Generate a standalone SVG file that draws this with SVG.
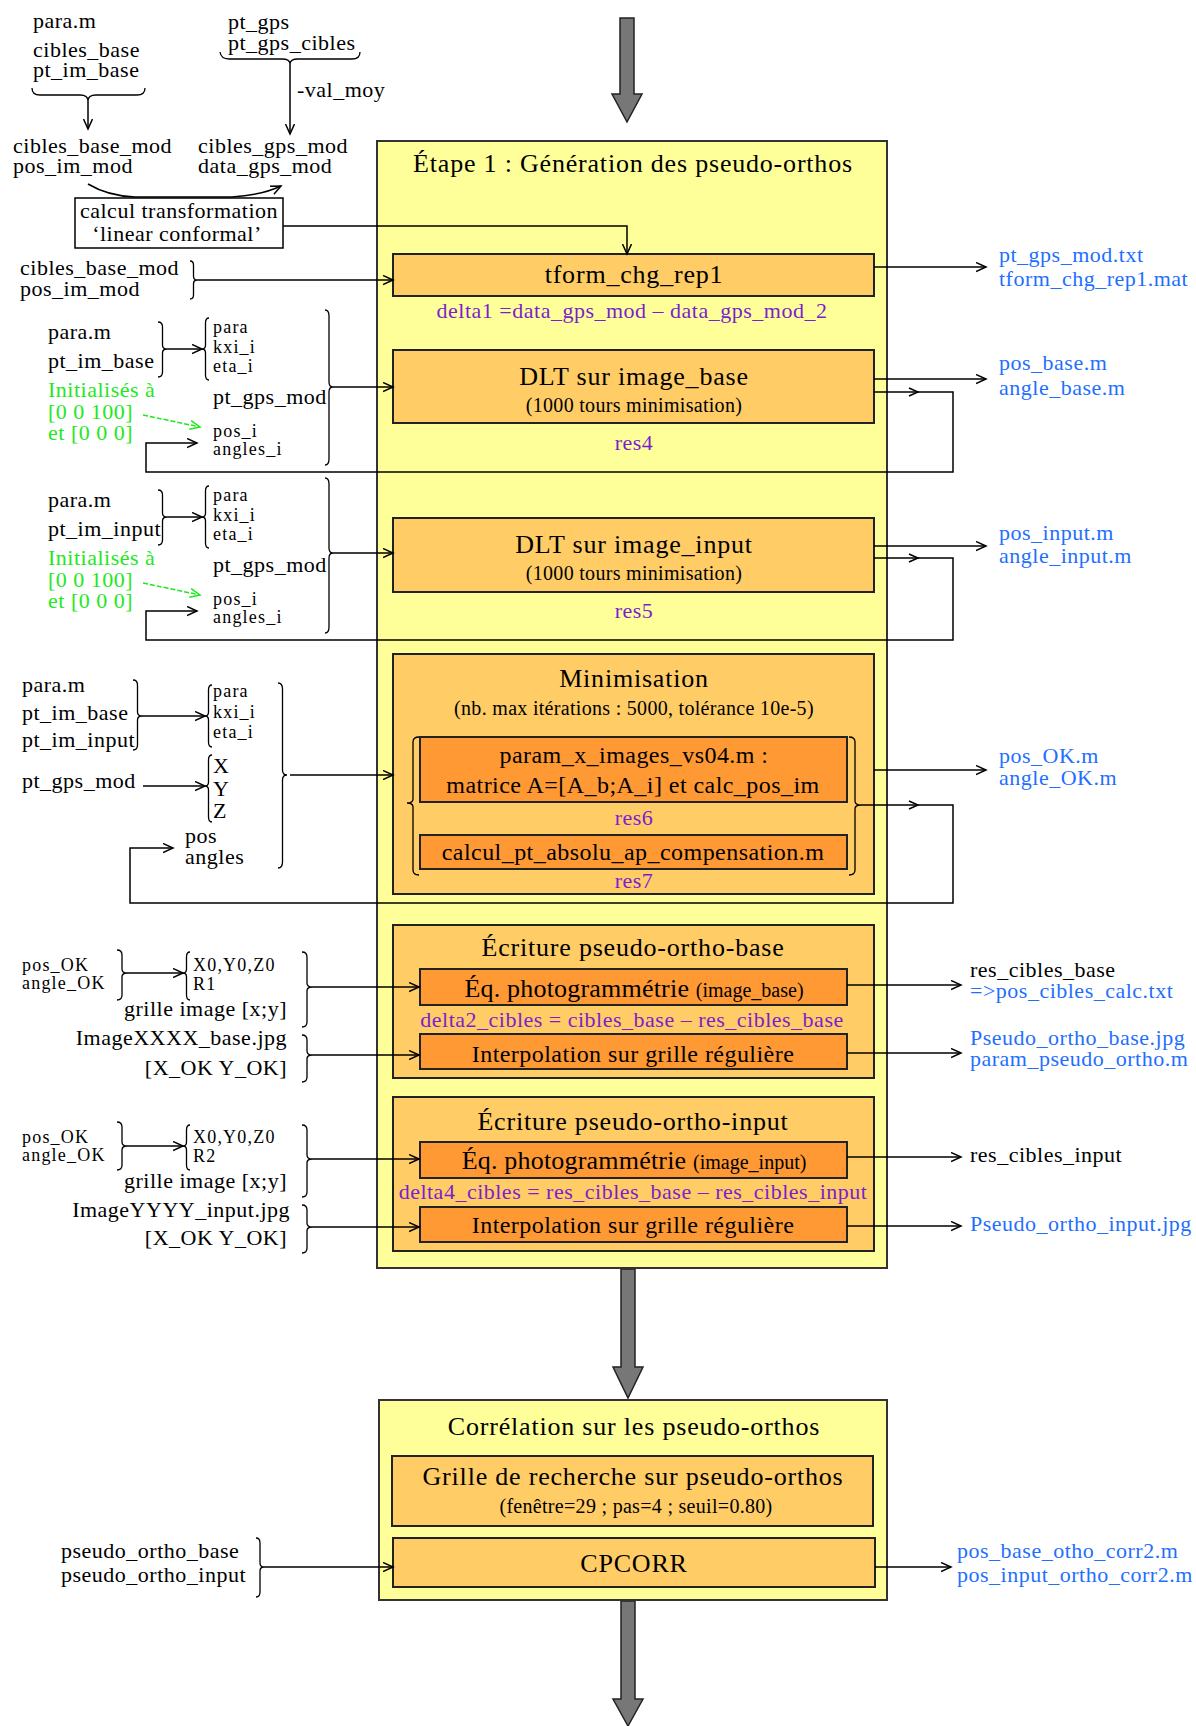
<svg xmlns="http://www.w3.org/2000/svg" width="1196" height="1726" viewBox="0 0 1196 1726">
<style>
text{font-family:"Liberation Serif","Times New Roman",serif;font-size:22px;letter-spacing:.5px;fill:#000}
.blue{fill:#1f6fff}.green{fill:#1ee81e}.purple{fill:#7a1fd0}
.ttl{font-size:26px;letter-spacing:.8px}
.t24{font-size:24px;letter-spacing:.45px}
.sm{font-size:20px;letter-spacing:.3px}
.tt{font-size:18px;letter-spacing:1.2px}
.mid{text-anchor:middle}.end{text-anchor:end}
.yel{fill:#ffff99;stroke:#333;stroke-width:2}
.org{fill:#ffcc66;stroke:#222;stroke-width:2}
.dorg{fill:#ff9933;stroke:#222;stroke-width:2}
.wht{fill:#fff;stroke:#000;stroke-width:1.5}
.ln{fill:none;stroke:#000;stroke-width:1.5}
.br{fill:none;stroke:#000;stroke-width:1.3}
.gln{fill:none;stroke:#1ee81e;stroke-width:1.5;stroke-dasharray:5 2}
.big{fill:#777;stroke:#222;stroke-width:1.5}
</style>
<defs>
<marker id="ah" markerUnits="userSpaceOnUse" markerWidth="12" markerHeight="12" refX="10" refY="5" orient="auto"><path d="M0,0.5 L10,5 L0,9.5" fill="none" stroke="#000" stroke-width="1.5"/></marker>
<marker id="ahg" markerUnits="userSpaceOnUse" markerWidth="12" markerHeight="12" refX="10" refY="5" orient="auto"><path d="M0,0.5 L10,5 L0,9.5" fill="none" stroke="#1ee81e" stroke-width="1.5"/></marker>
</defs>
<rect width="1196" height="1726" fill="#fff"/>

<g id="arrows-big">
<polygon class="big" points="620,18 634,18 634,94 642,94 627,122 612,94 620,94"/>
<polygon class="big" points="621,1269 635,1269 635,1367 643,1367 628,1398 613,1367 621,1367"/>
<polygon class="big" points="621,1601 635,1601 635,1699 643,1699 628,1726 613,1699 621,1699"/>
</g>

<g id="etape1">
<rect class="yel" x="377" y="141" width="510" height="1127"/>
<text class="ttl mid" x="633" y="172">Étape 1 : Génération des pseudo-orthos</text>
</g>
<g id="tform">
<rect class="org" x="393" y="254" width="481" height="42"/>
<text class="ttl mid" x="634" y="283">tform_chg_rep1</text>
<text class="purple mid" x="632" y="318">delta1 =data_gps_mod – data_gps_mod_2</text>
</g>
<g id="dlt-base">
<rect class="org" x="393" y="350" width="481" height="73"/>
<text class="ttl mid" x="634" y="385">DLT sur image_base</text>
<text class="sm mid" x="634" y="412">(1000 tours minimisation)</text>
<text class="purple mid" x="634" y="450">res4</text>
</g>
<g id="dlt-input">
<rect class="org" x="393" y="518" width="481" height="74"/>
<text class="ttl mid" x="634" y="553">DLT sur image_input</text>
<text class="sm mid" x="634" y="580">(1000 tours minimisation)</text>
<text class="purple mid" x="634" y="618">res5</text>
</g>
<g id="minimisation">
<rect class="org" x="393" y="654" width="481" height="240"/>
<text class="ttl mid" x="634" y="687">Minimisation</text>
<text class="sm mid" x="634" y="715">(nb. max itérations : 5000, tolérance 10e-5)</text>
<rect class="dorg" x="420" y="737" width="427" height="65"/>
<text class="t24 mid" x="634" y="763">param_x_images_vs04.m :</text>
<text class="t24 mid" x="633" y="793">matrice A=[A_b;A_i] et calc_pos_im</text>
<text class="purple mid" x="634" y="825">res6</text>
<rect class="dorg" x="420" y="835" width="427" height="34"/>
<text class="t24 mid" x="633" y="860">calcul_pt_absolu_ap_compensation.m</text>
<text class="purple mid" x="634" y="888">res7</text>
<path class="br" d="M419 737 Q413 737 413 742 L413 799 Q413 803 407 803 Q413 803 413 807 L413 870 Q413 875 419 875"/>
<path class="br" d="M849 737 Q855 737 855 742 L855 801 Q855 805 861 805 Q855 805 855 809 L855 870 Q855 875 849 875"/>
</g>
<g id="ecriture-base">
<rect class="org" x="393" y="925" width="481" height="153"/>
<text class="ttl mid" x="633" y="956">Écriture pseudo-ortho-base</text>
<rect class="dorg" x="420" y="969" width="427" height="36"/>
<text class="mid" x="634" y="997"><tspan style="font-size:26px;letter-spacing:.2px">Éq. photogrammétrie </tspan><tspan style="font-size:20px;letter-spacing:0">(image_base)</tspan></text>
<text class="purple mid" x="632" y="1027">delta2_cibles = cibles_base – res_cibles_base</text>
<rect class="dorg" x="420" y="1034" width="427" height="35"/>
<text class="t24 mid" x="633" y="1062">Interpolation sur grille régulière</text>
</g>
<g id="ecriture-input">
<rect class="org" x="393" y="1097" width="481" height="154"/>
<text class="ttl mid" x="633" y="1130">Écriture pseudo-ortho-input</text>
<rect class="dorg" x="420" y="1142" width="427" height="36"/>
<text class="mid" x="634" y="1169"><tspan style="font-size:26px;letter-spacing:.2px">Éq. photogrammétrie </tspan><tspan style="font-size:20px;letter-spacing:0">(image_input)</tspan></text>
<text class="purple mid" x="633" y="1199">delta4_cibles = res_cibles_base – res_cibles_input</text>
<rect class="dorg" x="420" y="1207" width="427" height="35"/>
<text class="t24 mid" x="633" y="1233">Interpolation sur grille régulière</text>
</g>
<g id="correlation">
<rect class="yel" x="379" y="1400" width="508" height="200"/>
<text class="ttl mid" x="634" y="1435">Corrélation sur les pseudo-orthos</text>
<rect class="org" x="392" y="1456" width="481" height="70"/>
<text class="ttl mid" x="633" y="1485">Grille de recherche sur pseudo-orthos</text>
<text class="sm mid" x="636" y="1513">(fenêtre=29 ; pas=4 ; seuil=0.80)</text>
<rect class="org" x="393" y="1538" width="482" height="49"/>
<text class="ttl mid" x="634" y="1572">CPCORR</text>
</g>

<g id="inputs-top">
<text x="33" y="28">para.m</text>
<text x="33" y="57">cibles_base</text>
<text x="33" y="77">pt_im_base</text>
<path class="br" d="M32 88 Q32 95 40 95 L80 95 Q88 95 88 101 Q88 95 96 95 L137 95 Q145 95 145 88"/>
<text x="228" y="29">pt_gps</text>
<text x="228" y="50">pt_gps_cibles</text>
<path class="br" d="M220 52 Q221 59 229 59 L282 59 Q290 59 290 64 Q290 59 298 59 L352 59 Q360 59 360 52"/>
<text x="297" y="97">-val_moy</text>
<text x="13" y="153">cibles_base_mod</text>
<text x="13" y="173">pos_im_mod</text>
<text x="198" y="153">cibles_gps_mod</text>
<text x="198" y="173">data_gps_mod</text>
</g>
<g id="calcul-transformation">
<rect class="wht" x="75" y="198" width="208" height="50"/>
<text class="mid" x="179" y="218">calcul transformation</text>
<text class="mid" x="177" y="241">‘linear conformal’</text>
</g>
<g id="inputs-tform">
<text x="20" y="275">cibles_base_mod</text>
<text x="20" y="296">pos_im_mod</text>
<path class="br" d="M190 261 Q193.5 261 193.5 265 L193.5 276 Q193.5 280 197 280 Q193.5 280 193.5 284 L193.5 295 Q193.5 299 190 299"/>
</g>
<g id="inputs-dlt-base">
<text x="48" y="339">para.m</text>
<text x="48" y="368">pt_im_base</text>
<text class="green" x="48" y="397">Initialisés à</text>
<text class="green" x="48" y="419">[0 0 100]</text>
<text class="green" x="48" y="440">et [0 0 0]</text>
<text class="tt" x="213" y="333">para</text>
<text class="tt" x="213" y="353">kxi_i</text>
<text class="tt" x="213" y="372">eta_i</text>
<text x="213" y="404">pt_gps_mod</text>
<text class="tt" x="213" y="437">pos_i</text>
<text class="tt" x="213" y="455">angles_i</text>
<path class="br" d="M158 322 Q162.5 322 162.5 327 L162.5 345 Q162.5 349 167 349 Q162.5 349 162.5 353 L162.5 372 Q162.5 377 158 377"/>
<path class="br" d="M209 318 Q205.5 318 205.5 323 L205.5 345 Q205.5 349 202 349 Q205.5 349 205.5 353 L205.5 375 Q205.5 380 209 380"/>
<path class="br" d="M325 310 Q329 310 329 316 L329 382 Q329 387 333 387 Q329 387 329 392 L329 459 Q329 465 325 465"/>
</g>
<g id="inputs-dlt-input">
<text x="48" y="507">para.m</text>
<text x="48" y="536">pt_im_input</text>
<text class="green" x="48" y="565">Initialisés à</text>
<text class="green" x="48" y="587">[0 0 100]</text>
<text class="green" x="48" y="608">et [0 0 0]</text>
<text class="tt" x="213" y="501">para</text>
<text class="tt" x="213" y="521">kxi_i</text>
<text class="tt" x="213" y="540">eta_i</text>
<text x="213" y="572">pt_gps_mod</text>
<text class="tt" x="213" y="605">pos_i</text>
<text class="tt" x="213" y="623">angles_i</text>
<path class="br" d="M158 490 Q162.5 490 162.5 495 L162.5 513 Q162.5 517 167 517 Q162.5 517 162.5 521 L162.5 540 Q162.5 545 158 545"/>
<path class="br" d="M209 486 Q205.5 486 205.5 491 L205.5 513 Q205.5 517 202 517 Q205.5 517 205.5 521 L205.5 543 Q205.5 548 209 548"/>
<path class="br" d="M325 478 Q329 478 329 484 L329 548 Q329 553 333 553 Q329 553 329 558 L329 627 Q329 633 325 633"/>
</g>
<g id="inputs-minimisation">
<text x="22" y="692">para.m</text>
<text x="22" y="720">pt_im_base</text>
<text x="22" y="747">pt_im_input</text>
<text class="tt" x="213" y="697">para</text>
<text class="tt" x="213" y="718">kxi_i</text>
<text class="tt" x="213" y="738">eta_i</text>
<text x="22" y="788">pt_gps_mod</text>
<text x="213" y="773">X</text>
<text x="213" y="796">Y</text>
<text x="213" y="818">Z</text>
<text x="185" y="843">pos</text>
<text x="185" y="864">angles</text>
<path class="br" d="M133 680 Q137.5 680 137.5 685 L137.5 712 Q137.5 716 142 716 Q137.5 716 137.5 720 L137.5 745 Q137.5 750 133 750"/>
<path class="br" d="M212 685 Q208.5 685 208.5 690 L208.5 712 Q208.5 716 205 716 Q208.5 716 208.5 720 L208.5 742 Q208.5 747 212 747"/>
<path class="br" d="M212 755 Q208.5 755 208.5 760 L208.5 782 Q208.5 786 205 786 Q208.5 786 208.5 790 L208.5 817 Q208.5 822 212 822"/>
<path class="br" d="M278 683 Q282.5 683 282.5 689 L282.5 770 Q282.5 775 287 775 Q282.5 775 282.5 780 L282.5 862 Q282.5 868 278 868"/>
</g>
<g id="inputs-ecriture-base">
<text class="tt" x="22" y="971">pos_OK</text>
<text class="tt" x="22" y="989">angle_OK</text>
<text class="tt" x="193" y="971">X0,Y0,Z0</text>
<text class="tt" x="193" y="990">R1</text>
<text class="end" x="287" y="1016">grille image [x;y]</text>
<text class="end" x="287" y="1045">ImageXXXX_base.jpg</text>
<text class="end" x="287" y="1075">[X_OK Y_OK]</text>
<path class="br" d="M117 950 Q122 950 122 955 L122 969 Q122 973 127 973 Q122 973 122 977 L122 995 Q122 1000 117 1000"/>
<path class="br" d="M190 952 Q186.5 952 186.5 957 L186.5 969 Q186.5 973 183 973 Q186.5 973 186.5 977 L186.5 995 Q186.5 1000 190 1000"/>
<path class="br" d="M302 952 Q307 952 307 957 L307 983 Q307 987 312 987 Q307 987 307 991 L307 1022 Q307 1027 302 1027"/>
<path class="br" d="M302 1035 Q307 1035 307 1040 L307 1051 Q307 1055 312 1055 Q307 1055 307 1059 L307 1077 Q307 1082 302 1082"/>
</g>
<g id="inputs-ecriture-input">
<text class="tt" x="22" y="1143">pos_OK</text>
<text class="tt" x="22" y="1161">angle_OK</text>
<text class="tt" x="193" y="1143">X0,Y0,Z0</text>
<text class="tt" x="193" y="1162">R2</text>
<text class="end" x="287" y="1188">grille image [x;y]</text>
<text class="end" x="290" y="1217">ImageYYYY_input.jpg</text>
<text class="end" x="287" y="1245">[X_OK Y_OK]</text>
<path class="br" d="M117 1122 Q122 1122 122 1127 L122 1142 Q122 1146 127 1146 Q122 1146 122 1150 L122 1165 Q122 1170 117 1170"/>
<path class="br" d="M190 1125 Q186.5 1125 186.5 1130 L186.5 1142 Q186.5 1146 183 1146 Q186.5 1146 186.5 1150 L186.5 1165 Q186.5 1170 190 1170"/>
<path class="br" d="M302 1125 Q307 1125 307 1130 L307 1155 Q307 1159 312 1159 Q307 1159 307 1163 L307 1192 Q307 1197 302 1197"/>
<path class="br" d="M302 1205 Q307 1205 307 1210 L307 1223 Q307 1227 312 1227 Q307 1227 307 1231 L307 1248 Q307 1253 302 1253"/>
</g>
<g id="inputs-correlation">
<text x="61" y="1558">pseudo_ortho_base</text>
<text x="61" y="1582">pseudo_ortho_input</text>
<path class="br" d="M256 1538 Q260 1538 260 1543 L260 1563 Q260 1567 264 1567 Q260 1567 260 1571 L260 1592 Q260 1597 256 1597"/>
</g>

<g id="outputs">
<text class="blue" x="999" y="262">pt_gps_mod.txt</text>
<text class="blue" x="999" y="286">tform_chg_rep1.mat</text>
<text class="blue" x="999" y="370">pos_base.m</text>
<text class="blue" x="999" y="395">angle_base.m</text>
<text class="blue" x="999" y="540">pos_input.m</text>
<text class="blue" x="999" y="563">angle_input.m</text>
<text class="blue" x="999" y="763">pos_OK.m</text>
<text class="blue" x="999" y="785">angle_OK.m</text>
<text x="970" y="977">res_cibles_base</text>
<text class="blue" x="970" y="998">=&gt;pos_cibles_calc.txt</text>
<text class="blue" x="970" y="1045">Pseudo_ortho_base.jpg</text>
<text class="blue" x="970" y="1066">param_pseudo_ortho.m</text>
<text x="970" y="1162">res_cibles_input</text>
<text class="blue" x="970" y="1231">Pseudo_ortho_input.jpg</text>
<text class="blue" x="957" y="1558">pos_base_otho_corr2.m</text>
<text class="blue" x="957" y="1582">pos_input_ortho_corr2.m</text>
</g>

<g id="connectors">
<path class="ln" d="M88 101 L88 129" marker-end="url(#ah)"/>
<path class="ln" d="M290 64 L290 134" marker-end="url(#ah)"/>
<path class="ln" d="M88 184 Q108 196 135 197 L232 197 Q262 195 281 186" marker-end="url(#ah)"/>
<path class="ln" d="M283 226 L627 226 L627 254" marker-end="url(#ah)"/>
<path class="ln" d="M197 280 L393 280" marker-end="url(#ah)"/>
<path class="ln" d="M874 267 L986 267" marker-end="url(#ah)"/>
<path class="ln" d="M167 349 L202 349" marker-end="url(#ah)"/>
<path class="ln" d="M333 387 L393 387" marker-end="url(#ah)"/>
<path class="ln" d="M874 379 L986 379" marker-end="url(#ah)"/>
<path class="ln" d="M874 392 L953 392 L953 472 L146 472 L146 443 L197 443" marker-end="url(#ah)"/>
<path class="ln" d="M909 388 L918 392 L909 396"/>
<path class="gln" d="M143 415 L200 427" marker-end="url(#ahg)"/>
<path class="ln" d="M167 517 L202 517" marker-end="url(#ah)"/>
<path class="ln" d="M333 553 L393 553" marker-end="url(#ah)"/>
<path class="ln" d="M874 546 L986 546" marker-end="url(#ah)"/>
<path class="ln" d="M874 558 L953 558 L953 640 L146 640 L146 611 L197 611" marker-end="url(#ah)"/>
<path class="ln" d="M909 554 L918 558 L909 562"/>
<path class="gln" d="M143 583 L200 595" marker-end="url(#ahg)"/>
<path class="ln" d="M142 716 L205 716" marker-end="url(#ah)"/>
<path class="ln" d="M143 786 L205 786" marker-end="url(#ah)"/>
<path class="ln" d="M290 775 L393 775" marker-end="url(#ah)"/>
<path class="ln" d="M874 770 L986 770" marker-end="url(#ah)"/>
<path class="ln" d="M861 805 L953 805 L953 903 L130 903 L130 848 L173 848" marker-end="url(#ah)"/>
<path class="ln" d="M909 801 L918 805 L909 809"/>
<path class="ln" d="M127 973 L183 973" marker-end="url(#ah)"/>
<path class="ln" d="M312 987 L419 987" marker-end="url(#ah)"/>
<path class="ln" d="M312 1055 L419 1055" marker-end="url(#ah)"/>
<path class="ln" d="M847 985 L961 985" marker-end="url(#ah)"/>
<path class="ln" d="M847 1053 L961 1053" marker-end="url(#ah)"/>
<path class="ln" d="M127 1146 L183 1146" marker-end="url(#ah)"/>
<path class="ln" d="M312 1159 L419 1159" marker-end="url(#ah)"/>
<path class="ln" d="M312 1227 L419 1227" marker-end="url(#ah)"/>
<path class="ln" d="M847 1157 L961 1157" marker-end="url(#ah)"/>
<path class="ln" d="M847 1226 L961 1226" marker-end="url(#ah)"/>
<path class="ln" d="M264 1567 L393 1567" marker-end="url(#ah)"/>
<path class="ln" d="M875 1567 L951 1567" marker-end="url(#ah)"/>
</g>
</svg>
